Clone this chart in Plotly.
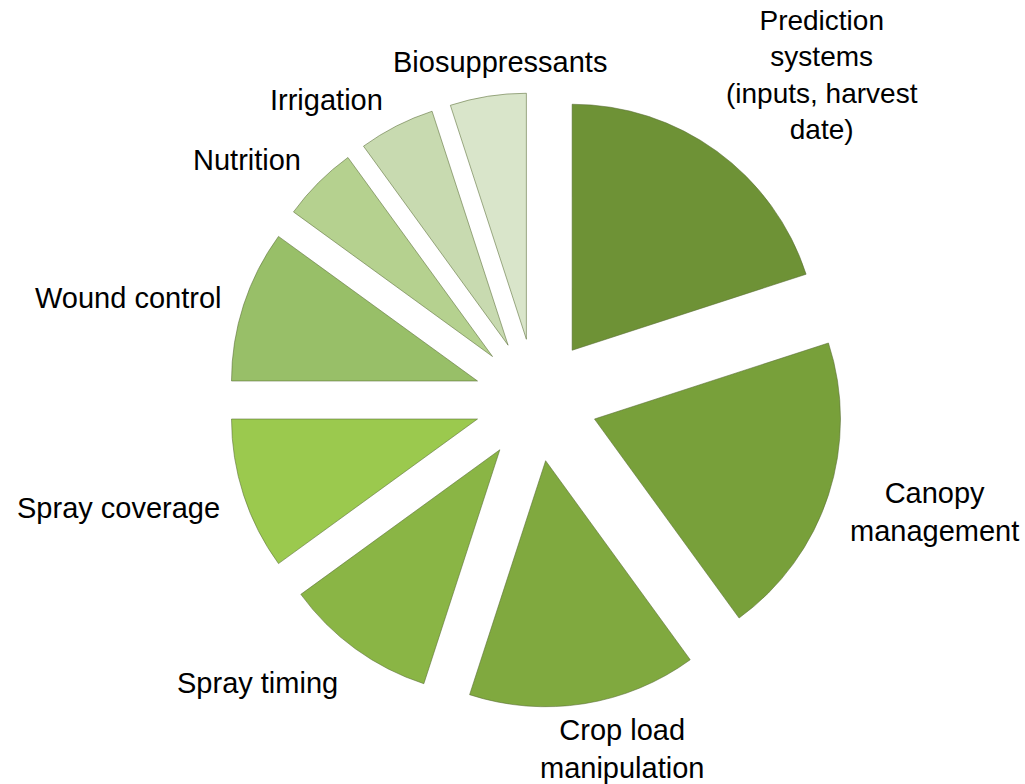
import plotly.graph_objects as go

# ---- data ----
categories = [
    "Prediction systems (inputs, harvest date)",
    "Canopy management",
    "Crop load manipulation",
    "Spray timing",
    "Spray coverage",
    "Wound control",
    "Nutrition",
    "Irrigation",
    "Biosuppressants",
]
values = [20, 20, 15, 10, 10, 10, 5, 5, 5]
label_text = [
    "Prediction<br>systems<br>(inputs, harvest<br>date)",
    "Canopy<br>management",
    "Crop load<br>manipulation",
    "Spray timing",
    "Spray coverage",
    "Wound control",
    "Nutrition",
    "Irrigation",
    "Biosuppressants",
]

# ---- styles / positions (in window pixels) ----
colors = ["#6e9236", "#78a03a", "#80a93f", "#8ab545", "#9bc94e",
          "#98bf68", "#b5d18f", "#c8dab0", "#d9e5ca"]
label_px = [(822, 75), (934, 512), (622, 749), (257, 683), (118, 508),
            (128, 298), (247, 160), (326, 100), (500, 62)]
label_size = [28, 29, 29, 29, 29, 29, 29, 29, 29]

W, H = 1025, 784
cx, cy = 536, 400
half = 307.5

fig = go.Figure(go.Pie(
    labels=categories,
    values=values,
    sort=False,
    direction="clockwise",
    rotation=0,
    pull=[0.25] * len(values),
    textinfo="none",
    hoverinfo="label+value",
    marker=dict(colors=colors, line=dict(color="rgba(85,105,50,0.55)", width=1)),
    domain=dict(x=[(cx - half) / W, (cx + half) / W],
                y=[(H - cy - half) / H, (H - cy + half) / H]),
))

for txt, (px, py), fs in zip(label_text, label_px, label_size):
    fig.add_annotation(
        x=px / W, y=1 - py / H, xref="paper", yref="paper",
        text=txt, showarrow=False, xanchor="center", yanchor="middle",
        align="center",
        font=dict(family="Liberation Sans, Arial, sans-serif", size=fs, color="#000000"),
    )

fig.update_layout(
    width=W, height=H,
    margin=dict(l=0, r=0, t=0, b=0),
    paper_bgcolor="white", plot_bgcolor="white",
    showlegend=False,
)

fig.write_html("out.html", config={"displayModeBar": False},
               post_script="document.body.style.margin='0';")
